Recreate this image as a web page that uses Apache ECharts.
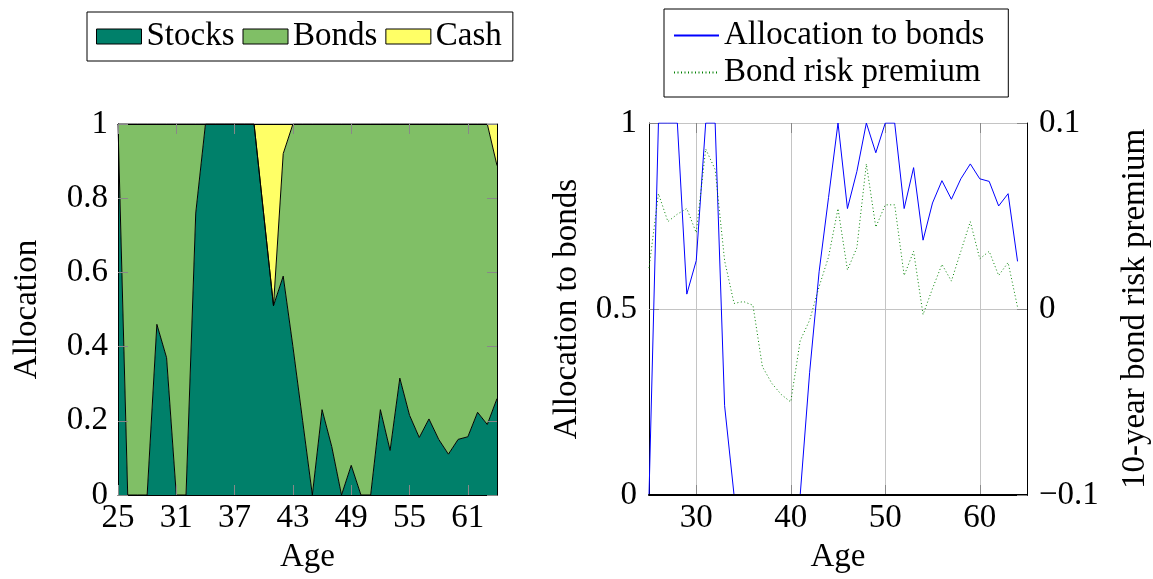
<!DOCTYPE html>
<html><head><meta charset="utf-8">
<script src="https://cdn.jsdelivr.net/npm/echarts@6/dist/echarts.min.js"></script>
<style>html,body{margin:0;padding:0;background:#fff}#c{width:1153px;height:579px}</style>
</head><body><div id="c"></div>
<script>
// ---- data ----
const ages = ['25','26','27','28','29','30','31','32','33','34','35','36','37','38','39','40','41','42','43','44',
              '45','46','47','48','49','50','51','52','53','54','55','56','57','58','59','60','61','62','63','64'];
const agesRightAxis = ages.concat(['65']);
const stocks = [1.0, 0, 0, 0, 0.46, 0.37, 0, 0, 0.76, 1, 1, 1, 1, 1, 1, 0.755, 0.51, 0.59, 0.40, 0.20,
                0, 0.23, 0.13, 0, 0.08, 0, 0, 0.23, 0.12, 0.315, 0.215, 0.155, 0.205, 0.15, 0.11, 0.15, 0.157, 0.223, 0.19, 0.26];
const bonds  = [0, 1, 1, 1, 0.54, 0.63, 1, 1, 0.24, 0, 0, 0, 0, 0, 0, 0, 0, 0.33, 0.60, 0.80,
                1, 0.77, 0.87, 1, 0.92, 1, 1, 0.77, 0.88, 0.685, 0.785, 0.845, 0.795, 0.85, 0.89, 0.85, 0.843, 0.777, 0.81, 0.628];
const cash   = [0, 0, 0, 0, 0, 0, 0, 0, 0, 0, 0, 0, 0, 0, 0, 0.245, 0.49, 0.08, 0, 0,
                0, 0, 0, 0, 0, 0, 0, 0, 0, 0, 0, 0, 0, 0, 0, 0, 0, 0, 0, 0.112];
const riskPremium = [0.022, 0.062, 0.047, 0.051, 0.054, 0.041, 0.086, 0.075, 0.026, 0.003, 0.004, 0.002, -0.031, -0.040, -0.046, -0.050, -0.017, -0.006, 0.012, 0.028,
                     0.054, 0.021, 0.033, 0.078, 0.044, 0.056, 0.056, 0.018, 0.031, -0.003, 0.011, 0.024, 0.015, 0.031, 0.047, 0.027, 0.031, 0.018, 0.025, 0.001];
const leftXTicks = ['25','31','37','43','49','55','61'];
const rightXTicks = ['30','40','50','60'];

// ---- chart ----
const FONT = 'Liberation Serif';
const FS = 33;
const TICK = '#888888';
const GRIDC = '#c4c4c4';
const C_STOCK = '#00806a', C_BOND = '#80bf66', C_CASH = '#ffff66';
const leftTickFn = (i, v) => leftXTicks.indexOf(v) >= 0;
const rightTickFn = (i, v) => rightXTicks.indexOf(v) >= 0;
const lbl = {fontFamily: FONT, fontSize: FS, color: '#000'};
const blackLine = {show: true, onZero: false, lineStyle: {color: '#000', width: 1}};
const fmtY = v => String(+v.toFixed(1));

const chart = echarts.init(document.getElementById('c'), null, {renderer: 'canvas'});
chart.setOption({
  animation: false,
  textStyle: {fontFamily: FONT, color: '#000'},
  legend: [
    {
      left: 87, top: 12, orient: 'horizontal',
      padding: [8, 11, 8, 9], itemGap: 8, itemWidth: 45, itemHeight: 15,
      borderColor: '#000', borderWidth: 1,
      textStyle: {fontFamily: FONT, fontSize: FS, color: '#000'},
      data: [
        {name: 'Stocks', icon: 'rect', itemStyle: {color: C_STOCK, borderColor: '#000', borderWidth: 1}},
        {name: 'Bonds', icon: 'rect', itemStyle: {color: C_BOND, borderColor: '#000', borderWidth: 1}},
        {name: 'Cash', icon: 'rect', itemStyle: {color: C_CASH, borderColor: '#000', borderWidth: 1}}
      ]
    },
    {
      left: 664, top: 9, orient: 'vertical',
      padding: [10, 24, 8, 9], itemGap: 4, itemWidth: 45, itemHeight: 14,
      borderColor: '#000', borderWidth: 1,
      textStyle: {fontFamily: FONT, fontSize: FS, color: '#000'},
      data: [
        {name: 'Allocation to bonds', itemStyle: {opacity: 0}},
        {name: 'Bond risk premium', itemStyle: {opacity: 0}}
      ]
    }
  ],
  grid: [
    {left: 118, top: 124, width: 379, height: 378, show: false},
    {left: 649, top: 123, width: 378, height: 377, show: false}
  ],
  xAxis: [
    { // 0: left bottom
      gridIndex: 0, type: 'category', position: 'bottom', data: ages, boundaryGap: false, z: 5,
      axisLine: blackLine,
      axisTick: {show: true, inside: true, length: 10, interval: leftTickFn, lineStyle: {color: TICK}},
      axisLabel: Object.assign({interval: leftTickFn, margin: 7}, lbl),
      splitLine: {show: false},
      name: 'Age', nameLocation: 'middle', nameGap: 46, nameTextStyle: lbl
    },
    { // 1: left top
      gridIndex: 0, type: 'category', position: 'top', data: ages, boundaryGap: false, z: 5,
      axisLine: blackLine,
      axisTick: {show: true, inside: true, length: 10, interval: leftTickFn, lineStyle: {color: TICK}},
      axisLabel: {show: false}, splitLine: {show: false}
    },
    { // 2: right bottom (labels, ticks, grid)
      gridIndex: 1, type: 'category', position: 'bottom', data: agesRightAxis, boundaryGap: false, z: 0,
      axisLine: {show: false, onZero: false},
      axisTick: {show: true, inside: true, length: 10, interval: rightTickFn, lineStyle: {color: TICK}},
      axisLabel: Object.assign({interval: rightTickFn, margin: 7}, lbl),
      splitLine: {show: true, interval: rightTickFn, lineStyle: {color: GRIDC, width: 1}},
      name: 'Age', nameLocation: 'middle', nameGap: 46, nameTextStyle: lbl
    },
    { // 3: right bottom axis line drawn above the series
      gridIndex: 1, type: 'category', position: 'bottom', data: agesRightAxis, boundaryGap: false, z: 5,
      axisLine: {show: true, onZero: false, lineStyle: {color: '#000', width: 2}},
      axisTick: {show: false}, axisLabel: {show: false}, splitLine: {show: false}
    },
    { // 4: right top ticks
      gridIndex: 1, type: 'category', position: 'top', data: agesRightAxis, boundaryGap: false, z: 0,
      axisLine: {show: false, onZero: false},
      axisTick: {show: true, inside: true, length: 10, interval: rightTickFn, lineStyle: {color: TICK}},
      axisLabel: {show: false}, splitLine: {show: false}
    }
  ],
  yAxis: [
    { // 0: left chart left
      gridIndex: 0, type: 'value', position: 'left', min: 0, max: 1, interval: 0.2, z: 5,
      axisLine: blackLine,
      axisTick: {show: true, inside: true, length: 10, lineStyle: {color: TICK}},
      axisLabel: Object.assign({margin: 10, padding: [4, 0, 0, 0], formatter: fmtY}, lbl),
      splitLine: {show: false},
      name: 'Allocation', nameLocation: 'middle', nameGap: 74, nameTextStyle: lbl
    },
    { // 1: left chart right
      gridIndex: 0, type: 'value', position: 'right', min: 0, max: 1, interval: 0.2, z: 5,
      axisLine: blackLine,
      axisTick: {show: true, inside: true, length: 10, lineStyle: {color: TICK}},
      axisLabel: {show: false}, splitLine: {show: false}
    },
    { // 2: right chart left
      gridIndex: 1, type: 'value', position: 'left', min: 0, max: 1, interval: 0.5, z: 0,
      axisLine: blackLine,
      axisTick: {show: true, inside: true, length: 10, lineStyle: {color: TICK}},
      axisLabel: Object.assign({margin: 12, padding: [4, 0, 0, 0], formatter: fmtY}, lbl),
      splitLine: {show: true, lineStyle: {color: GRIDC, width: 1}},
      name: 'Allocation to bonds', nameLocation: 'middle', nameGap: 65, nameTextStyle: lbl
    },
    { // 3: right chart right
      gridIndex: 1, type: 'value', position: 'right', min: -0.1, max: 0.1, interval: 0.1, z: 5,
      axisLine: blackLine,
      axisTick: {show: true, inside: true, length: 10, lineStyle: {color: TICK}},
      axisLabel: Object.assign({margin: 12, padding: [4, 0, 0, 0], formatter: v => { const r = Math.round(v * 10) / 10; return r < 0 ? '\u2212' + (-r) : String(r); }}, lbl),
      splitLine: {show: false},
      name: '10-year bond risk premium', nameLocation: 'middle', nameGap: 92, nameTextStyle: lbl
    }
  ],
  series: [
    {name: 'Stocks', type: 'line', xAxisIndex: 0, yAxisIndex: 0, stack: 'alloc', data: stocks, symbol: 'none',
     itemStyle: {color: C_STOCK}, lineStyle: {color: '#000', width: 1}, areaStyle: {color: C_STOCK, opacity: 1}},
    {name: 'Bonds', type: 'line', xAxisIndex: 0, yAxisIndex: 0, stack: 'alloc', data: bonds, symbol: 'none',
     itemStyle: {color: C_BOND}, lineStyle: {color: '#000', width: 1}, areaStyle: {color: C_BOND, opacity: 1}},
    {name: 'Cash', type: 'line', xAxisIndex: 0, yAxisIndex: 0, stack: 'alloc', data: cash, symbol: 'none',
     itemStyle: {color: C_CASH}, lineStyle: {color: '#000', width: 1}, areaStyle: {color: C_CASH, opacity: 1}},
    {name: 'Allocation to bonds', type: 'line', xAxisIndex: 2, yAxisIndex: 2, data: bonds, symbol: 'none',
     itemStyle: {color: '#0000ff'}, lineStyle: {color: '#0000ff', width: 1}},
    {name: 'Bond risk premium', type: 'line', xAxisIndex: 2, yAxisIndex: 3, data: riskPremium, symbol: 'none',
     itemStyle: {color: '#008000'}, lineStyle: {color: '#008000', width: 1, type: [1, 2.5]}}
  ]
});
</script></body></html>
